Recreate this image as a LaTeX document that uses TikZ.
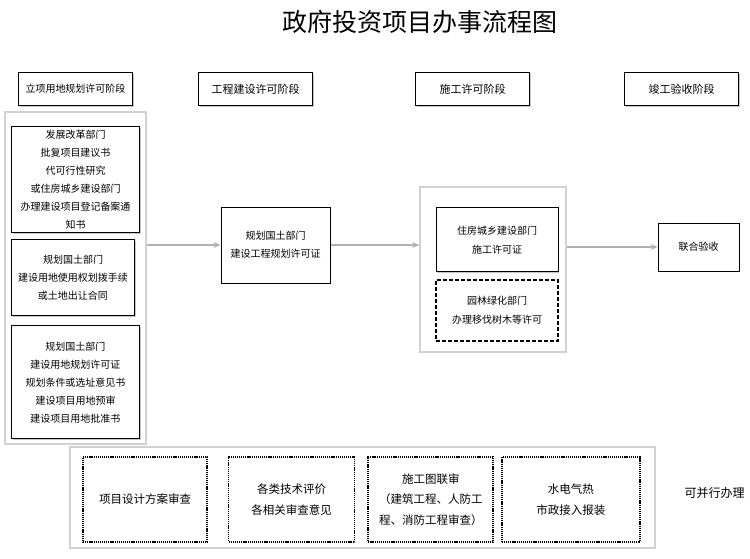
\documentclass[tikz,border=0pt]{standalone}
\usepackage{fontspec}
\setmainfont{Noto Sans CJK SC}
\usetikzlibrary{shapes, arrows.meta, positioning, shadows}

\tikzset{
  boxshadow/.style={drop shadow={shadow xshift=1.4pt, shadow yshift=-1.4pt, opacity=0.45, fill=gray}},
  stagebox/.style={draw, fill=white, line width=1pt, boxshadow,
    minimum width=114pt, minimum height=33pt, inner sep=0pt,
    font=\fontsize{11}{13}\selectfont},
  deptbox/.style={draw, fill=white, line width=1pt, boxshadow,
    align=center, inner sep=0pt, font=\fontsize{10}{18}\selectfont},
  optbox/.style={draw, dash pattern=on 4pt off 2pt, line width=1.5pt,
    align=center, inner sep=0pt, font=\fontsize{10}{19}\selectfont},
  groupbox/.style={draw=gray!35, line width=1.5pt, inner sep=0pt},
  parbox/.style={draw, dash pattern=on 1.2pt off 0.9pt, line width=1.6pt,
    align=center, minimum height=85pt, inner sep=0pt,
    font=\fontsize{11.5}{20.5}\selectfont},
  flow/.style={-{Stealth[length=7pt,width=6pt]}, draw=gray!60, line width=2pt},
}

\begin{document}
\begin{tikzpicture}[x=1pt, y=-1pt]
\useasboundingbox (0,0) rectangle (750,559);

\node[font=\fontsize{25}{28}\selectfont] (title) at (420,22) {政府投资项目办事流程图};

% Stages
\node[stagebox, font=\fontsize{10}{12}\selectfont] (stage1) at (75.5,89) {立项用地规划许可阶段};
\node[stagebox, right=65pt of stage1] (stage2) {工程建设许可阶段};
\node[stagebox, right=102pt of stage2] (stage3) {施工许可阶段};
\node[stagebox, right=94pt of stage3] (stage4) {竣工验收阶段};

% Groups
\node[groupbox,
    minimum width=141pt,
    minimum height=332pt] (group1) at (75.5,278) {};
\node[groupbox,
    minimum width=146pt,
    minimum height=165pt] (group2) at (493,269.5) {};
\node[groupbox,
    minimum width=585pt,
    minimum height=101pt] (group3) at (362.5,497.5) {};

% First stage
\node[deptbox,
    below=15pt of group1.north,
    minimum width=128pt,
    minimum height=106pt] (block1) {发展改革部门\\批复项目建议书\\代可行性研究\\或住房城乡建设部门\\办理建设项目登记备案通\\知书};
\node[deptbox,
    below right=6pt and 0pt of block1.south west,
    minimum width=123pt,
    minimum height=76pt] (block2) {规划国土部门\\建设用地使用权划拨手续\\或土地出让合同};
\node[deptbox,
    below right=9pt and 0pt of block2.south west,
    minimum width=128pt,
    minimum height=113pt] (block3) {规划国土部门\\建设用地规划许可证\\规划条件或选址意见书\\建设项目用地预审\\建设项目用地批准书};

% Second stage
\node[deptbox,
    minimum width=109pt,
    minimum height=76pt] (block4) at (275.5,245) {规划国土部门\\建设工程规划许可证};

% Third stage
\node[deptbox,
    font=\fontsize{10}{19}\selectfont,
    below=21pt of group2.north,
    xshift=4pt,
    minimum width=122pt,
    minimum height=64pt] (block5) {住房城乡建设部门\\施工许可证};
\node[optbox,
    below=7pt of block5,
    minimum width=122pt,
    minimum height=61pt] (block6) {园林绿化部门\\办理移伐树木等许可};

% Return block
\node[deptbox,
    minimum width=81pt,
    minimum height=48pt] (block7) at (698.5,247) {联合验收};

% Parallel items
\node[parbox, minimum width=124pt, right=13pt of group3.west, yshift=-2pt] (par1) {项目设计方案审查};
\node[parbox, minimum width=126pt, right=20pt of par1] (par2) {各类技术评价\\各相关审查意见};
\node[parbox, minimum width=125pt, right=12pt of par2] (par3) {施工图联审\\（建筑工程、人防工\\程、消防工程审查）};
\node[parbox, minimum width=138pt, right=7pt of par3] (par4) {水电气热\\市政接入报装};
\node[font=\fontsize{12}{14}\selectfont] (note) at (714.5,493) {可并行办理};

% Arrows
\draw[flow] (group1.east |- block4) -- (block4.west);
\draw[flow] (block4.east) -- (group2.west |- block4);
\draw[flow] (group2.east |- block7) -- (block7.west);

\end{tikzpicture}
\end{document}
